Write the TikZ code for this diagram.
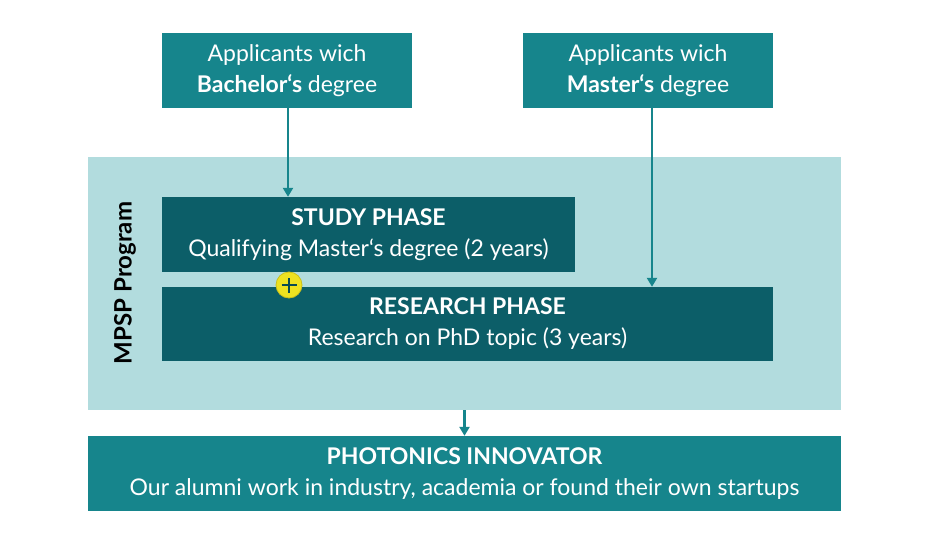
\documentclass[tikz,border=0pt]{standalone}
\usepackage{fontspec}
\setmainfont{Lato}
\usepackage{xcolor}
\usepackage{tikz}
\usetikzlibrary{arrows.meta}

\definecolor{tealtop}{RGB}{22,133,140}
\definecolor{tealdark}{RGB}{12,94,104}
\definecolor{teallight}{RGB}{178,220,222}
\definecolor{plusyellow}{RGB}{238,226,32}

\begin{document}
\begin{tikzpicture}[x=1pt, y=-1pt,
        box/.style={rectangle, inner sep=0pt, text=white, align=center,
            font=\fontsize{23}{31}\selectfont},
        topbox/.style={box, fill=tealtop, minimum width=250pt, minimum height=75pt},
        phasebox/.style={box, fill=tealdark, minimum height=75pt},
        flow/.style={-{Triangle[width=10pt,length=9pt]}, line width=2.2pt, draw=tealtop}]
        \useasboundingbox[fill=white] (0,0) rectangle (950,535);

        \node[rectangle, fill=teallight, minimum width=753pt, minimum height=253pt] (prog) at (464.5,283.5) {};
        \node[rotate=90, font=\fontsize{24}{28}\selectfont\bfseries] (proglabel) at (125,283) {MPSP Program};

        \node[topbox] (bach) at (287,70.5) {Applicants wich\\\textbf{Bachelor‘s} degree};
        \node[topbox] (mast) at (648,70.5) {Applicants wich\\\textbf{Master‘s} degree};

        \node[phasebox, minimum width=413pt] (study) at (368.5,234.5) {\textbf{STUDY PHASE}\\Qualifying Master‘s degree (2 years)};
        \node[phasebox, minimum width=611pt, minimum height=74pt] (research) at (467.5,324) {\textbf{RESEARCH PHASE}\\Research on PhD topic (3 years)};

        \node[circle, fill=plusyellow, draw=plusyellow!85!black, line width=0.8pt, minimum size=26pt, inner sep=0pt] (plus) at (289,285) {};
        \draw[line width=2.5pt, tealdark!80!black] ([xshift=-7.5pt]plus.center) -- ([xshift=7.5pt]plus.center);
        \draw[line width=2.5pt, tealdark!80!black] ([yshift=-7.5pt]plus.center) -- ([yshift=7.5pt]plus.center);

        \node[box, fill=tealtop, minimum width=753pt, minimum height=75pt] (innov) at (464.5,473.5) {\textbf{PHOTONICS INNOVATOR}\\Our alumni work in industry, academia or found their own startups};

        \draw[flow] ([xshift=1pt]bach.south) -- ([xshift=1pt]bach.south |- study.north);
        \draw[flow] ([xshift=4pt]mast.south) -- ([xshift=4pt]mast.south |- research.north);
        \draw[flow] (prog.south) -- (innov.north);
\end{tikzpicture}
\end{document}
